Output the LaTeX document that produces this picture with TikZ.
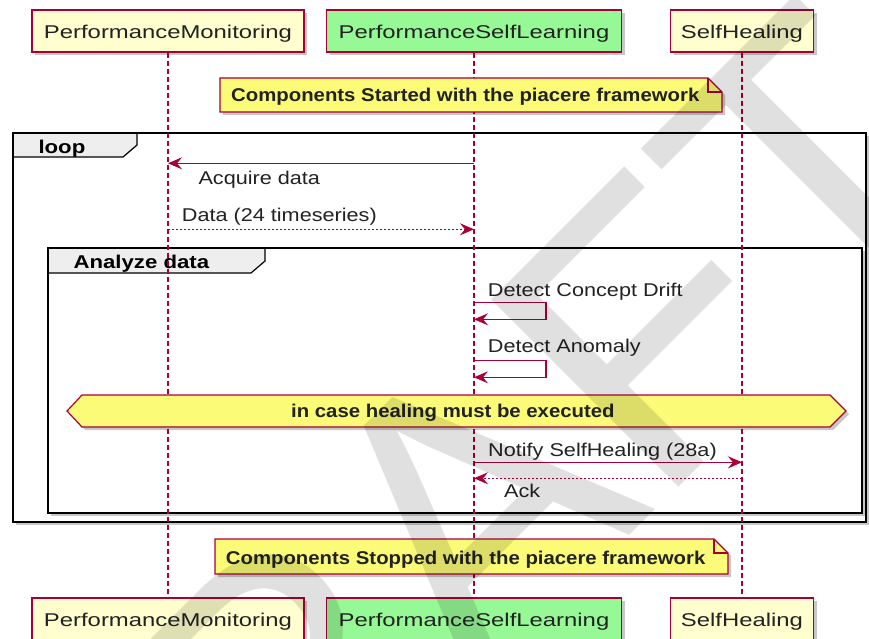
\documentclass[tikz,border=0pt]{standalone}
\usepackage{fontspec}
\setmainfont{Liberation Sans}
\newfontfamily\pfont{Liberation Sans}[FakeStretch=1.29]
\newfontfamily\mfont{Liberation Sans}[FakeStretch=1.17]
\newfontfamily\nfont{Liberation Sans}[FakeStretch=1.1]
\newfontfamily\ffont{Liberation Sans}[FakeStretch=1.2]
\usetikzlibrary{arrows.meta,shadows}

\definecolor{umlred}{HTML}{A80036}
\definecolor{partfill}{HTML}{FEFECE}
\definecolor{greenfill}{HTML}{96F996}
\definecolor{notefill}{HTML}{FBFB77}
\definecolor{tabfill}{HTML}{EEEEEE}
\definecolor{wmgray}{HTML}{E0E0E0}
\definecolor{ink}{HTML}{222222}

% note with a folded top-right corner, plus its shadow
\newcommand\drawnote[4]{%
  \fill[shadowc] (#1+3,#2+3) -- (#3-14+3,#2+3) -- (#3+3,#2+14+3) -- (#3+3,#4+3) -- (#1+3,#4+3) -- cycle;
  \filldraw[notebox] (#1,#2) -- (#3-14,#2) -- (#3,#2+14) -- (#3,#4) -- (#1,#4) -- cycle;
  \draw[notebox, fill=none] (#3-14,#2) -- (#3-14,#2+14) -- (#3,#2+14);
}
% combined fragment frame with its name tab
\newcommand\drawframe[6]{%
  \fill[shadowc] (#1+3,#2+3) rectangle (#3+3,#4+3);
  \fill[white] (#1,#2) rectangle (#3,#4);
  \filldraw[fill=tabfill, draw=black, line width=1.2pt] (#1,#2) -- (#5,#2) -- (#5,#6-12) -- (#5-14,#6) -- (#1,#6) -- cycle;
  \draw[black, line width=2.2pt] (#1,#2) rectangle (#3,#4);
}

\begin{document}
\begin{tikzpicture}[x=1pt,y=-1pt,
  shadowc/.style={fill=black, opacity=0.22},
  part/.style={draw=umlred, line width=1.3pt, fill=partfill, minimum height=42pt,
    inner sep=0pt, text height=14.6pt, text depth=0pt, text=ink,
    font=\pfont\fontsize{18.5}{20}\selectfont,
    drop shadow={shadow xshift=3pt, shadow yshift=-3pt, fill=black, opacity=0.22}},
  lifeline/.style={draw=umlred, line width=1.1pt, dash pattern=on 5pt off 3pt},
  msg/.style={draw=umlred, line width=1.1pt, -{Stealth[length=14pt,width=12pt,inset=5pt]}},
  reply/.style={msg, dash pattern=on 2pt off 2pt},
  lbl/.style={font=\mfont\fontsize{18.5}{20}\selectfont, text=ink, inner sep=0pt, anchor=base west},
  notetxt/.style={font=\nfont\bfseries\fontsize{18.5}{20}\selectfont, text=ink, inner sep=0pt, anchor=base west},
  frametxt/.style={font=\ffont\bfseries\fontsize{18.5}{20}\selectfont, text=black, inner sep=0pt, anchor=base west},
  notebox/.style={fill=notefill, draw=umlred, line width=1.2pt, line join=miter},
  wmark/.style={font=\fontsize{385}{385}\selectfont, text=wmgray, inner sep=0pt}
]
\useasboundingbox (0,0) rectangle (869,639);

% combined fragments
\drawframe{13}{133}{866}{522}{137}{157}
\node[frametxt] (loopTxt) at (38.3,154) {loop};
\drawframe{48}{248}{862}{513}{265}{273}
\node[frametxt] (anaTxt) at (73.3,268.3) {Analyze data};

% participants
\node[part, minimum width=272pt] (pmT) at (168,31) {PerformanceMonitoring};
\node[part, minimum width=295pt, fill=greenfill] (pslT) at (474,31) {PerformanceSelfLearning};
\node[part, minimum width=143pt] (shT) at (742,31) {SelfHealing};
\node[part, minimum width=272pt] (pmB) at (168,619) {PerformanceMonitoring};
\node[part, minimum width=295pt, fill=greenfill] (pslB) at (474,619) {PerformanceSelfLearning};
\node[part, minimum width=143pt] (shB) at (742,619) {SelfHealing};

% lifelines
\draw[lifeline] (pmT.south) -- (pmB.north);
\draw[lifeline] (pslT.south) -- (pslB.north);
\draw[lifeline] (shT.south) -- (shB.north);

% message levels
\coordinate (yAcq) at (0,163.3);
\coordinate (yData) at (0,229.3);
\coordinate (yDrA) at (0,302.3);
\coordinate (yDrB) at (0,319.3);
\coordinate (yAnA) at (0,360.7);
\coordinate (yAnB) at (0,377.3);
\coordinate (yNot) at (0,462.3);
\coordinate (yAck) at (0,478.3);

% messages
\draw[msg] (pslT |- yAcq) -- (pmT |- yAcq);
\node[lbl] (lAcq) at (198.3,184) {Acquire data};
\draw[reply] (pmT |- yData) -- (pslT |- yData);
\node[lbl] (lData) at (181.7,221.7) {Data (24 timeseries)};
\draw[msg] (pslT |- yDrA) -- ++(72,0) -- ++(0,17) -- (pslT |- yDrB);
\node[lbl] (lDrift) at (487.7,296) {Detect Concept Drift};
\draw[msg] (pslT |- yAnA) -- ++(72,0) -- ++(0,16.6) -- (pslT |- yAnB);
\node[lbl] (lAnom) at (487.7,352.7) {Detect Anomaly};

% condition marker
\fill[shadowc] (70,414) -- (85,398) -- (833,398) -- (849,414) -- (833,430) -- (85,430) -- cycle;
\filldraw[notebox] (67,411) -- (82,395) -- (830,395) -- (846,411) -- (830,427) -- (82,427) -- cycle;
\node[notetxt] (hexTxt) at (291,417.7) {in case healing must be executed};

\draw[msg] (pslT |- yNot) -- (shT |- yNot);
\node[lbl] (lNotify) at (488,456.7) {Notify SelfHealing (28a)};
\draw[reply] (shT |- yAck) -- (pslT |- yAck);
\node[lbl] (lAck) at (504,497.7) {Ack};

% notes
\drawnote{220}{78}{722}{112}
\node[notetxt] (noteStart) at (231,101.7) {Components Started with the piacere framework};
\drawnote{215}{539}{728}{574}
\node[notetxt] (noteStop) at (225.7,564.3) {Components Stopped with the piacere framework};

% watermark
\begin{scope}[blend mode=multiply]
\node[wmark, rotate=45, anchor=base] (wm) at (535,630) {DRAFT};
\end{scope}
\end{tikzpicture}
\end{document}
